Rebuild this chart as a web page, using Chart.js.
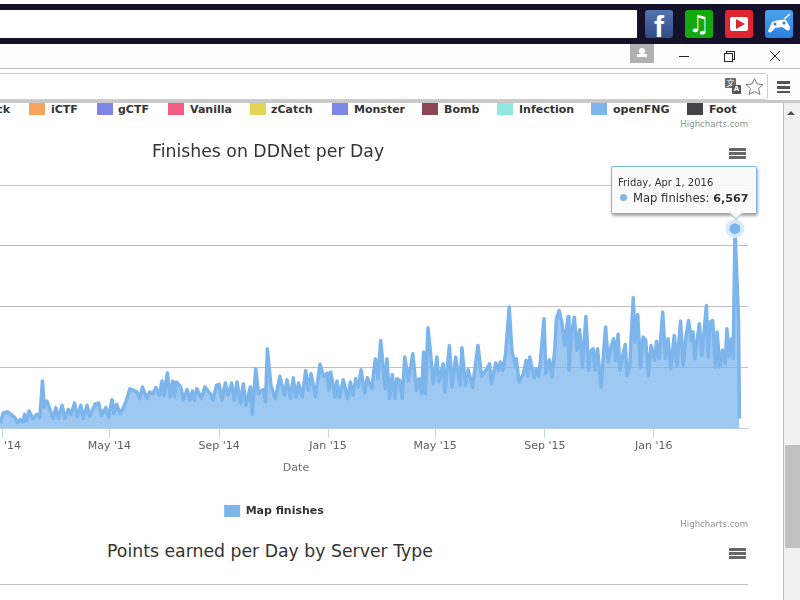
<!DOCTYPE html>
<html lang="en">
<head>
<meta charset="UTF-8">
<title>Finishes on DDNet per Day</title>
<script src="https://cdn.jsdelivr.net/npm/chart.js@4"></script>
<style>
html, body { margin: 0; padding: 0; width: 800px; height: 600px; overflow: hidden; background: #fff; font-family: "DejaVu Sans", sans-serif; }
.abs { position: absolute; }
#strip { left: 0; top: 4px; width: 800px; height: 40px; background: #15112b; }
#urlbox { left: 0; top: 10px; width: 637px; height: 28px; background: #fff; }
.app { top: 10px; width: 28px; height: 28px; border-radius: 3px; }
#toolbar { left: 0; top: 44px; width: 800px; height: 58px; background: #fdfdfd; }
#tabline { left: 0; top: 68px; width: 800px; height: 1px; background: #bdbdbd; }
#addr { left: -4px; top: 73px; width: 770px; height: 25px; background: #fff; border: 1px solid #cfcfcf; border-radius: 3px; }
#sepline { left: 0; top: 100px; width: 800px; height: 3px; background: #c9c9c9; }
#scrollbar { left: 783px; top: 103px; width: 17px; height: 497px; background: #f1f1f1; border-left: 1px solid #bcbcbc; box-sizing: border-box; }
#thumb { left: 785px; top: 445px; width: 15px; height: 103px; background: #c1c1c1; }
#arrow { left: 787px; top: 111px; width: 0; height: 0; border-left: 4px solid transparent; border-right: 4px solid transparent; border-bottom: 4px solid #505050; }
.sw { top: 103px; width: 16px; height: 12px; }
.lg { top: 103px; font-size: 11px; line-height: 14px; font-weight: bold; color: #333; white-space: nowrap; }
.credit { font-size: 8.6px; line-height: 12px; color: #909090; white-space: nowrap; }
.ctitle { font-size: 17.3px; line-height: 22px; color: #333; white-space: nowrap; }
.burger { left: 729px; width: 17px; height: 11px; background: linear-gradient(#666 0 3px, #fff 3px 4px, #666 4px 7px, #fff 7px 8px, #666 8px 11px); border-radius: 1px; }
#chartwrap { left: -210px; top: 130px; width: 968px; height: 400px; }
#tip { display: none; width: 146px; height: 48px; box-sizing: border-box; background: rgba(249,249,249,.88); border: 1px solid #7cb5ec; border-radius: 2px; box-shadow: 1px 2px 3px rgba(0,0,0,.35); color: #333; }
#tip .d { position: absolute; left: 6px; top: 10px; font-size: 10px; line-height: 12px; white-space: nowrap; }
#tip .v { position: absolute; left: 7px; top: 24px; font-size: 11.6px; line-height: 15px; white-space: nowrap; }
#tip .v b { font-size: 11.2px; }
#tip .v i { display: inline-block; width: 7px; height: 7px; border-radius: 50%; background: #7cb5ec; margin: 0 6px 1px 1px; }
#tip:after { content: ""; position: absolute; left: 119px; top: 41px; width: 9px; height: 9px; background: #f9f9f9; border-right: 1px solid #9fb9d2; border-bottom: 1px solid #9fb9d2; transform: rotate(45deg); }
#gridnext { left: 0; top: 584px; width: 748px; height: 1px; background: #c0c0c0; }
</style>
</head>
<body>
<div id="chartwrap" class="abs"><canvas id="chart" width="968" height="400"></canvas></div>

<!-- browser window round the page -->
<div id="strip" class="abs"></div>
<div id="urlbox" class="abs"></div>
<div class="abs app" style="left:645px;background:linear-gradient(#5573b0,#2f4a86);color:#fff;font:bold 30px/34px 'Liberation Sans';text-align:center;overflow:hidden">f</div>
<div class="abs app" style="left:685px;background:#12a80e;color:#fff;font:bold 24px/28px 'DejaVu Sans';text-align:center">♫</div>
<div class="abs app" style="left:725px;background:#e02430"><div class="abs" style="left:5px;top:7px;width:18px;height:14px;background:#fff;border-radius:2px"></div><div class="abs" style="left:11px;top:9px;border-left:9px solid #e02430;border-top:5px solid transparent;border-bottom:5px solid transparent"></div></div>
<div class="abs app" style="left:765px;background:linear-gradient(#4aa3f0,#2b7fdc)"><svg width="28" height="28" viewBox="0 0 28 28"><path d="M3 21 L7 12 Q14 9 21 10 L25 17 Q25 23 20 19 L17 17 L10 18 Q5 25 3 21Z" fill="#fff"/><circle cx="10" cy="14" r="1.5" fill="#2b7fdc"/><circle cx="19" cy="13" r="1.5" fill="#2b7fdc"/><path d="M19 9 Q22 7 25 4" stroke="#fff" stroke-width="1.5" fill="none"/></svg></div>
<div id="toolbar" class="abs"></div>
<div class="abs" style="left:630px;top:44px;width:24px;height:19px;background:#b1b1b1"><div class="abs" style="left:9px;top:4px;width:6px;height:6px;border-radius:50%;background:#fff"></div><div class="abs" style="left:7px;top:10px;width:10px;height:3px;background:#fff"></div></div>
<div class="abs" style="left:679px;top:56px;width:10px;height:1px;background:#222"></div>
<div class="abs" style="left:726px;top:51px;width:7px;height:7px;border:1px solid #222"></div>
<div class="abs" style="left:724px;top:53px;width:7px;height:7px;border:1px solid #222;background:#fdfdfd"></div>
<svg class="abs" style="left:769px;top:50px" width="12" height="12"><path d="M1 1 L11 11 M11 1 L1 11" stroke="#222" stroke-width="1"/></svg>
<div id="tabline" class="abs"></div>
<div id="addr" class="abs"></div>
<div class="abs" style="left:725px;top:78px;width:11px;height:10px;background:#6b6b6b;border-radius:1px;color:#fff;font:8px/10px 'Noto Sans CJK SC';text-align:center">文</div>
<div class="abs" style="left:732px;top:85px;width:9px;height:9px;background:#555;border-radius:1px;color:#fff;font:bold 7px/9px 'DejaVu Sans';text-align:center">A</div>
<svg class="abs" style="left:745px;top:77px" width="19" height="19"><path d="M9.5 1.5 L12 7 L18 7.6 L13.5 11.6 L15 17.5 L9.5 14.4 L4 17.5 L5.5 11.6 L1 7.6 L7 7Z" fill="#fff" stroke="#777" stroke-width="1"/></svg>
<div class="abs" style="left:777px;top:81px;width:13px;height:12px;background:linear-gradient(#555 0 3px,#fdfdfd 3px 5px,#555 5px 8px,#fdfdfd 8px 10px,#555 10px 12px)"></div>
<div id="sepline" class="abs"></div>

<!-- legend row of the chart above -->
<div class="abs lg" style="right:790px">Block</div>
<div class="abs sw" style="left:29px;background:#f7a35c"></div><div class="abs lg" style="left:51px">iCTF</div>
<div class="abs sw" style="left:97px;background:#8085e9"></div><div class="abs lg" style="left:118px">gCTF</div>
<div class="abs sw" style="left:168px;background:#f15c80"></div><div class="abs lg" style="left:190px">Vanilla</div>
<div class="abs sw" style="left:250px;background:#e4d354"></div><div class="abs lg" style="left:271px">zCatch</div>
<div class="abs sw" style="left:332px;background:#8085e9"></div><div class="abs lg" style="left:354px">Monster</div>
<div class="abs sw" style="left:422px;background:#8d4653"></div><div class="abs lg" style="left:444px">Bomb</div>
<div class="abs sw" style="left:497px;background:#91e8e1"></div><div class="abs lg" style="left:519px">Infection</div>
<div class="abs sw" style="left:591px;background:#7cb5ec"></div><div class="abs lg" style="left:613px">openFNG</div>
<div class="abs sw" style="left:687px;background:#434348"></div><div class="abs lg" style="left:709px">Foot</div>
<div class="abs credit" style="right:52px;top:118px">Highcharts.com</div>

<div class="abs ctitle" style="left:152px;top:140px">Finishes on DDNet per Day</div>
<div class="abs burger" style="top:148px"></div>
<div id="tip" class="abs"><div class="d"></div><div class="v"></div></div>

<div class="abs credit" style="right:52px;top:518px">Highcharts.com</div>
<div class="abs ctitle" style="left:107px;top:540px">Points earned per Day by Server Type</div>
<div class="abs burger" style="top:548px"></div>
<div id="gridnext" class="abs"></div>

<div id="scrollbar" class="abs"></div>
<div id="arrow" class="abs"></div>
<div id="thumb" class="abs"></div>

<script>
// days since Jan 1 2014 at the ups and downs of the line
const days = [-6,-2,1,6,11,14,17,20,23,25,27,30,34,39,42,45,47,50,53,57,60,63,67,70,74,77,81,84,88,91,95,98,104,108,111,116,119,123,125,128,132,136,139,143,147,151,154,157,162,165,169,172,176,179,181,185,188,191,193,195,200,203,207,210,213,215,218,223,227,233,236,240,243,246,250,253,257,260,263,267,270,273,278,280,284,287,292,295,297,
301,304,306,311,316,319,323,326,329,332,336,340,343,346,351,356,360,364,366,368,373,375,378,382,387,390,393,396,399,402,406,409,414,418,421,424,429,431,434,437,440,442,445,448,451,455,460,464,467,470,472,474,477,479,483,487,489,494,496,501,504,508,513,515,519,522,527,531,533,537,543,546,548,553,556,558,561,564,568,571,575,576,579,584,587,
589,591,596,598,601,603,607,609,613,616,619,621,624,627,630,634,635,638,641,644,647,650,654,657,659,662,664,667,671,674,676,679,682,685,687,690,692,695,698,700,703,707,709,712,715,718,721,724,727,731,733,736,740,743,746,749,753,756,760,763,766,769,772,774,776,781,784,789,791,793,796,799,801,804,807,810,812,814,817,819,821,825,826];
const finishes = [300,220,515,545,435,360,195,295,220,470,250,580,330,470,360,1565,710,905,655,330,690,330,765,330,625,470,840,380,765,330,765,405,800,840,435,690,380,950,490,800,490,710,930,1310,1255,1200,985,1365,985,1200,1150,1345,1095,1565,1095,1825,1040,1565,1040,1530,1365,930,1280,930,1235,930,1310,985,1365,1150,930,1420,1455,930,1500,1095,1500,930,1530,820,1475,765,1365,470,1965,1150,1280,875,2625,
1420,1150,985,1715,1095,1605,985,1670,1015,1495,1040,1910,1255,1805,1060,2110,1715,1825,1255,1860,1040,1565,1015,1605,985,1530,1095,1640,1365,1935,1170,1670,1310,2295,1640,2895,1310,2295,985,1780,985,1640,1585,985,2350,1585,2460,1255,1640,1150,2515,1150,3310,2730,1475,2350,1530,2130,1200,2730,1365,2350,1420,2655,1420,1935,1365,2295,2730,1715,1965,2130,1475,2155,1915,2185,1915,2460,3990,2570,2020,2295,1530,1805,2240,
1715,2350,1670,1965,1695,2240,3605,1805,2260,1695,2570,3605,3880,3500,2730,3685,1915,3170,3660,2570,3245,2020,3685,1915,2515,2625,1915,2625,1365,2570,3335,2185,2680,2950,2240,3095,1915,2350,2765,1750,2020,4295,2840,3750,2020,3005,2895,1750,2730,2240,2865,2295,3825,2295,2950,1965,3060,2075,3530,2075,3005,3550,2895,3170,2295,3440,2405,4045,2350,3500,3550,2020,3170,2020,2570,2130,3280,2350,2950,2295,6567,3550,330];

const tickDays = [-122,0,120,243,365,485,608,730];
const tickLabels = ["Sep '13","Jan '14","May '14","Sep '14","Jan '15","May '15","Sep '15","Jan '16"];
const yTicks = [0,2000,4000,6000,8000];
const peakDate = 'Friday, Apr 1, 2016';
const seriesName = 'Map finishes';

const peakIndex = finishes.indexOf(Math.max(...finishes));
const labelFont = '"DejaVu Sans", sans-serif';

// html box instead of the canvas tooltip, the value has to be bold
function drawTip(ctx) {
    const t = ctx.tooltip;
    const tip = document.getElementById('tip');
    if (t.opacity === 0) { tip.style.display = 'none'; return; }
    tip.querySelector('.d').textContent = t.title[0];
    const p = t.dataPoints[0];
    tip.querySelector('.v').innerHTML = '<i></i>' + p.dataset.label + ': <b>' + p.parsed.y.toLocaleString('en-US') + '</b>';
    tip.style.display = 'block';
    tip.style.left = (t.caretX - 210 - 124) + 'px';
    tip.style.top = (t.caretY + 130 - 63) + 'px';
}

const chart = new Chart(document.getElementById('chart').getContext('2d'), {
    type: 'line',
    data: {
        datasets: [{
            label: seriesName,
            data: days.map((d, i) => ({ x: d, y: finishes[i] })),
            borderColor: '#7cb5ec',
            backgroundColor: 'rgba(124,181,236,0.75)',
            borderWidth: 3.5,
            borderJoinStyle: 'round',
            fill: 'origin',
            tension: 0,
            pointRadius: 0,
            pointHoverRadius: 7.5,
            pointHoverBackgroundColor: '#7cb5ec',
            pointHoverBorderColor: '#d8e9f9',
            pointHoverBorderWidth: 4
        }]
    },
    options: {
        responsive: false,
        animation: false,
        events: [],
        layout: { padding: { left: 10, right: 10, top: 55, bottom: 3 } },
        scales: {
            x: {
                type: 'linear',
                min: -177.4,
                max: 835.6,
                afterBuildTicks: axis => { axis.ticks = tickDays.map(v => ({ value: v })); },
                border: { color: '#c0d0e0', width: 1 },
                grid: { drawOnChartArea: false, drawTicks: true, tickLength: 9, tickColor: '#c0d0e0' },
                ticks: {
                    color: '#606060',
                    font: { family: labelFont, size: 11 },
                    maxRotation: 0,
                    autoSkip: false,
                    padding: 2,
                    callback: v => tickLabels[tickDays.indexOf(v)]
                },
                title: { display: true, text: 'Date', color: '#707070', font: { family: labelFont, size: 11 }, padding: { top: 7, bottom: 8 } }
            },
            y: {
                min: 0,
                max: 8000,
                afterBuildTicks: axis => { axis.ticks = yTicks.map(v => ({ value: v })); },
                afterFit: axis => { axis.width = 44; },
                border: { display: false },
                grid: { color: '#c0c0c0', drawTicks: false },
                ticks: { display: false }
            }
        },
        plugins: {
            legend: {
                position: 'bottom',
                labels: {
                    boxWidth: 16,
                    boxHeight: 12,
                    color: '#333',
                    font: { family: labelFont, size: 11, weight: 'bold' },
                    padding: 22,
                    generateLabels: c => Chart.defaults.plugins.legend.labels.generateLabels(c).map(l => ({ ...l, fillStyle: '#7cb5ec', lineWidth: 0 }))
                }
            },
            tooltip: {
                enabled: false,
                external: drawTip,
                callbacks: { title: () => peakDate }
            }
        }
    }
});

const active = [{ datasetIndex: 0, index: peakIndex }];
chart.setActiveElements(active);
chart.tooltip.setActiveElements(active, { x: 0, y: 0 });
chart.update();
</script>
</body>
</html>
